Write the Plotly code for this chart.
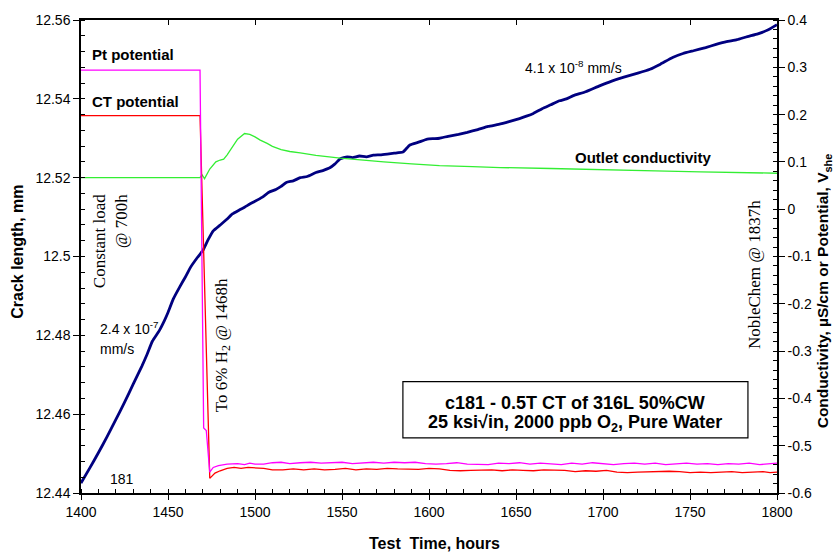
import plotly.graph_objects as go

# Crack length (mm) vs test time (h)
crack_hours = [1400, 1405, 1410, 1415, 1420, 1425, 1430, 1435, 1438, 1441, 1445, 1448, 1450, 1453,
               1457, 1460, 1463, 1467, 1470, 1473, 1476, 1480, 1484, 1487, 1491, 1494, 1497, 1500,
               1504, 1508, 1512, 1515, 1518, 1522, 1526, 1530, 1535, 1539, 1543, 1546, 1549, 1553,
               1556, 1560, 1564, 1568, 1572, 1576, 1580, 1585, 1589, 1594, 1599, 1603, 1606, 1611,
               1617, 1622, 1628, 1634, 1640, 1646, 1652, 1656, 1660, 1665, 1670, 1675, 1679, 1683,
               1690, 1698, 1705, 1712, 1720, 1727, 1733, 1740, 1746, 1752, 1759, 1765, 1771, 1777,
               1783, 1789, 1795, 1800]
crack_mm = [12.4425, 12.4463, 12.4502, 12.4543, 12.4586, 12.4630, 12.4676, 12.4722, 12.4752, 12.4785,
            12.4812, 12.4838, 12.4858, 12.4892, 12.4925, 12.4948, 12.4973, 12.4998, 12.5015, 12.5042,
            12.5065, 12.5080, 12.5095, 12.5108, 12.5118, 12.5125, 12.5133, 12.5140, 12.5150, 12.5163,
            12.5170, 12.5178, 12.5188, 12.5192, 12.5200, 12.5203, 12.5213, 12.5218, 12.5225, 12.5235,
            12.5248, 12.5253, 12.5251, 12.5255, 12.5253, 12.5257, 12.5258, 12.5260, 12.5262, 12.5265,
            12.5283, 12.5290, 12.5298, 12.5299, 12.5300, 12.5305, 12.5310, 12.5315, 12.5322, 12.5330,
            12.5335, 12.5342, 12.5350, 12.5356, 12.5363, 12.5375, 12.5385, 12.5395, 12.5400, 12.5408,
            12.5418, 12.5433, 12.5445, 12.5455, 12.5465, 12.5475, 12.5488, 12.5505, 12.5515, 12.5522,
            12.5530, 12.5538, 12.5545, 12.5550, 12.5558, 12.5565, 12.5575, 12.5588]

# Pt electrode potential (V_she)
pt_hours = [1400, 1468.4, 1470.5, 1472, 1474, 1476, 1479, 1484, 1490, 1494, 1497, 1500, 1505, 1510,
            1515, 1520, 1526, 1532, 1538, 1544, 1550, 1556, 1562, 1568, 1574, 1580, 1586, 1592,
            1598, 1604, 1610, 1616, 1622, 1628, 1634, 1640, 1646, 1652, 1658, 1664, 1670, 1676,
            1682, 1688, 1694, 1700, 1706, 1712, 1718, 1724, 1730, 1736, 1742, 1748, 1754, 1760,
            1766, 1772, 1778, 1784, 1790, 1796, 1800]
pt_v = [0.294, 0.294, -0.4625, -0.468, -0.556, -0.546, -0.542, -0.539, -0.538, -0.540, -0.537, -0.539,
        -0.539, -0.536, -0.535, -0.538, -0.536, -0.535, -0.537, -0.536, -0.535, -0.538, -0.536, -0.535,
        -0.537, -0.535, -0.536, -0.535, -0.538, -0.539, -0.538, -0.536, -0.539, -0.539, -0.540, -0.537,
        -0.538, -0.536, -0.539, -0.537, -0.538, -0.540, -0.537, -0.539, -0.536, -0.538, -0.540, -0.538,
        -0.537, -0.539, -0.537, -0.540, -0.538, -0.537, -0.539, -0.538, -0.540, -0.538, -0.539, -0.537,
        -0.540, -0.538, -0.537]

# CT specimen potential (V_she)
ct_hours = [1400, 1468.4, 1474, 1477, 1480, 1484, 1488, 1492, 1496, 1500, 1505, 1510, 1516, 1522,
            1528, 1534, 1540, 1546, 1552, 1558, 1564, 1570, 1576, 1582, 1588, 1594, 1600, 1606,
            1612, 1618, 1624, 1630, 1636, 1642, 1648, 1654, 1660, 1666, 1672, 1678, 1684, 1690,
            1696, 1702, 1708, 1714, 1720, 1726, 1732, 1738, 1744, 1750, 1756, 1762, 1768, 1774,
            1780, 1786, 1792, 1796, 1800]
ct_v = [0.198, 0.198, -0.569, -0.558, -0.553, -0.548, -0.546, -0.548, -0.546, -0.547, -0.548, -0.551,
        -0.551, -0.549, -0.551, -0.549, -0.551, -0.550, -0.548, -0.551, -0.549, -0.550, -0.548, -0.549,
        -0.549, -0.550, -0.548, -0.549, -0.552, -0.553, -0.552, -0.551, -0.551, -0.553, -0.551, -0.552,
        -0.553, -0.551, -0.552, -0.552, -0.555, -0.553, -0.554, -0.552, -0.556, -0.557, -0.556, -0.555,
        -0.555, -0.554, -0.555, -0.557, -0.556, -0.557, -0.556, -0.555, -0.557, -0.556, -0.555, -0.557,
        -0.556]

# Outlet conductivity (uS/cm)
cond_hours = [1400, 1468.4, 1469.5, 1471, 1474, 1477.5, 1480, 1482, 1484, 1487.5, 1490, 1494, 1497,
              1500, 1503, 1507, 1510, 1515, 1520, 1526, 1535, 1549, 1560, 1574, 1590, 1606, 1625,
              1641, 1670, 1698, 1730, 1756, 1780, 1800]
cond_us = [0.0667, 0.0667, 0.073, 0.0646, 0.085, 0.100, 0.104, 0.106, 0.115, 0.135, 0.148, 0.160,
           0.158, 0.153, 0.146, 0.139, 0.133, 0.126, 0.122, 0.119, 0.114, 0.108, 0.104, 0.100, 0.096,
           0.092, 0.090, 0.088, 0.086, 0.083, 0.081, 0.079, 0.077, 0.076]

x_ticks = [1400, 1450, 1500, 1550, 1600, 1650, 1700, 1750, 1800]
y_ticks = [12.44, 12.46, 12.48, 12.50, 12.52, 12.54, 12.56]
y_tick_text = ["12.44", "12.46", "12.48", "12.5", "12.52", "12.54", "12.56"]
y2_ticks = [-0.6, -0.5, -0.4, -0.3, -0.2, -0.1, 0.0, 0.1, 0.2, 0.3, 0.4]
y2_tick_text = ["-0.6", "-0.5", "-0.4", "-0.3", "-0.2", "-0.1", "0", "0.1", "0.2", "0.3", "0.4"]

SANS = "Liberation Sans, Arial, sans-serif"
SERIF = "Liberation Serif, Times New Roman, serif"

fig = go.Figure()
fig.add_trace(go.Scatter(x=cond_hours, y=cond_us, mode="lines", yaxis="y2",
                         line=dict(color="#33ee33", width=1.3), name="Outlet conductivity"))
fig.add_trace(go.Scatter(x=ct_hours, y=ct_v, mode="lines", yaxis="y2",
                         line=dict(color="#ff0000", width=1.3), name="CT potential"))
fig.add_trace(go.Scatter(x=pt_hours, y=pt_v, mode="lines", yaxis="y2",
                         line=dict(color="#ff00ff", width=1.3), name="Pt potential"))
fig.add_trace(go.Scatter(x=crack_hours, y=crack_mm, mode="lines", yaxis="y",
                         line=dict(color="#000080", width=2.8, shape="spline", smoothing=0.4),
                         name="Crack length"))

axis_common = dict(showline=True, linecolor="black", linewidth=1.5, showgrid=False,
                   zeroline=False, tickcolor="black", tickwidth=1.2,
                   tickfont=dict(family=SANS, size=14, color="black"))

fig.update_layout(
    width=835, height=558,
    margin=dict(l=81, r=58, t=13, b=65),
    paper_bgcolor="white", plot_bgcolor="white",
    showlegend=False,
    xaxis=dict(range=[1400, 1800], tickvals=x_ticks, ticks="outside", ticklen=5,
               minor=dict(dtick=10, tick0=1400, ticks="inside", ticklen=4, tickcolor="black"),
               **axis_common),
    xaxis2=dict(range=[1400, 1800], overlaying="x", side="top", tickvals=x_ticks,
                ticks="inside", ticklen=5, showticklabels=False, showline=True,
                linecolor="black", linewidth=1.5, showgrid=False, zeroline=False,
                tickcolor="black", tickwidth=1.2),
    yaxis=dict(range=[12.44, 12.56], tickvals=y_ticks, ticktext=y_tick_text,
               ticks="outside", ticklen=6,
               minor=dict(dtick=0.004, tick0=12.44, ticks="inside", ticklen=4, tickcolor="black"),
               **axis_common),
    yaxis2=dict(range=[-0.6, 0.4], overlaying="y", side="right", tickvals=y2_ticks,
                ticktext=y2_tick_text, ticks="outside", ticklen=6,
                minor=dict(dtick=0.02, tick0=-0.6, ticks="inside", ticklen=4, tickcolor="black"),
                **axis_common),
)

# Invisible trace so the top axis is drawn
fig.add_trace(go.Scatter(x=[1400, 1800], y=[12.44, 12.44], xaxis="x2", yaxis="y",
                         mode="lines", line=dict(width=0), hoverinfo="skip", showlegend=False))

annotations = []

def label(text, x, y, size=15, bold=False, family=SANS, xanchor="left", yanchor="middle",
          angle=0, xref="x", yref="y"):
    if bold:
        text = "<b>" + text + "</b>"
    annotations.append(dict(text=text, x=x, y=y, xref=xref, yref=yref, showarrow=False,
                            xanchor=xanchor, yanchor=yanchor, textangle=angle,
                            font=dict(family=family, size=size, color="black")))

# Axis titles
label("Crack length, mm", -0.0905, 0.51, size=16, bold=True, xanchor="center",
      angle=-90, xref="paper", yref="paper")
label("Test  Time, hours", 0.5086, -0.106, size=16, bold=True, xanchor="center",
      xref="paper", yref="paper")
label("Conductivity, \u00b5S/cm or Potential, V<sub>she</sub>", 1.0665, 0.427, size=15.5,
      bold=True, xanchor="center", angle=-90, xref="paper", yref="paper")

# Series labels
label("Pt potential", 1405.2, 12.5513, bold=True)
label("CT potential", 1405.2, 12.5393, bold=True)
label("Outlet conductivity", 1682.8, 12.5250, bold=True)

# Crack growth rates and specimen id
label("4.1 x 10<sup>-8</sup> mm/s", 1654.0, 12.5480, size=14)
label("2.4 x 10<sup>-7</sup>", 1409.8, 12.4818, size=14)
label("mm/s", 1409.8, 12.4765, size=14)
label("181", 1415.5, 12.4435, size=14)

# Event markers (rotated)
label("Constant load", 1410.3, 12.5163, size=17, family=SERIF, xanchor="center",
      yanchor="top", angle=-90)
label("@ 700h", 1423.0, 12.5163, size=17, family=SERIF, xanchor="center",
      yanchor="top", angle=-90)
label("To 6% H<sub>2</sub> @ 1468h", 1481.6, 12.4775, size=17, family=SERIF,
      xanchor="center", angle=-90)
label("NobleChem @ 1837h", 1786.8, 12.4953, size=17, family=SERIF, xanchor="center",
      angle=-90)

# Test condition box
label("c181 - 0.5T CT of 316L 50%CW", 1683.9, 12.46275, size=18, bold=True, xanchor="center")
label("25 ksi\u221ain, 2000 ppb O<sub>2</sub>, Pure Water", 1683.9, 12.45775, size=18,
      bold=True, xanchor="center")

fig.update_layout(annotations=annotations)
fig.add_shape(type="rect", xref="x", yref="y", x0=1585.0, x1=1783.3, y0=12.4540, y1=12.46825,
              line=dict(color="black", width=1.2), fillcolor="rgba(0,0,0,0)")

fig.write_html("out.html")
